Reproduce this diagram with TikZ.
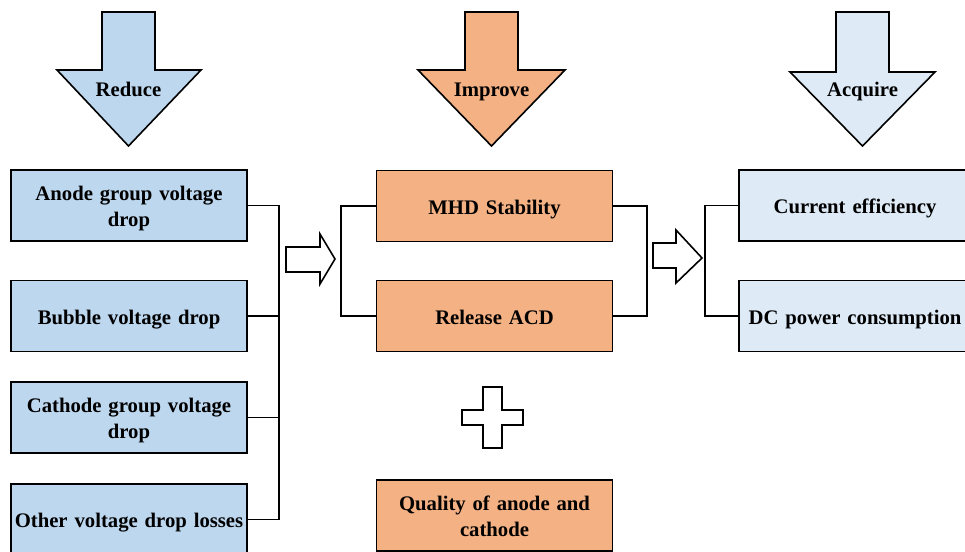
\documentclass[tikz,border=0pt]{standalone}
\usepackage{fontspec}
\setmainfont{Liberation Serif}[BoldFont={Liberation Serif Bold},UprightFont={Liberation Serif}]
\definecolor{boxblue}{RGB}{189,215,238}
\definecolor{boxorange}{RGB}{244,177,131}
\definecolor{boxlight}{RGB}{222,235,247}
\newcommand\boxstrut{\rule[-4.75pt]{0pt}{25.5pt}}
\begin{document}
\begin{tikzpicture}[x=1pt,y=-1pt,
  every node/.style={font=\fontsize{20.7}{25.5}\selectfont\rmfamily\bfseries},
  box/.style={draw=black,line width=1.8pt,minimum height=71pt,inner sep=2pt,align=center},
  lbox/.style={box,fill=boxblue,minimum width=234pt,text width=232pt},
  mbox/.style={box,fill=boxorange,minimum width=235pt,text width=232pt},
  rbox/.style={box,fill=boxlight,minimum width=230pt,text width=228pt},
  wire/.style={line width=1.6pt},
  bigarrow/.style={draw=black,line width=1.6pt,line join=miter},
  hollow/.style={draw=black,line width=1.6pt,fill=white,line join=miter}]
\clip (0,0) rectangle (965,551);
\fill[white] (0,0) rectangle (965,551);

% big top arrows
\draw[bigarrow,fill=boxblue] (102,12) -- (155,12) -- (155,70) -- (201,70) -- (128.5,146) -- (57,70) -- (102,70) -- cycle;
\node (reduce) at (128.5,91) {Reduce\strut};
\draw[bigarrow,fill=boxorange] (465,12) -- (518,12) -- (518,70) -- (565,70) -- (491.5,146) -- (418,70) -- (465,70) -- cycle;
\node (improve) at (491.5,91) {Improve\strut};
\draw[bigarrow,fill=boxlight] (836,12) -- (889,12) -- (889,72) -- (935,72) -- (862.5,146) -- (790,72) -- (836,72) -- cycle;
\node (acquire) at (862.5,91) {Acquire\strut};

% left boxes
\node[lbox] (anode) at (129,205.5) {Anode group voltage\boxstrut\\drop\boxstrut};
\node[lbox] (bubble) at (129,316) {Bubble voltage drop\boxstrut};
\node[lbox] (cathode) at (129,417.5) {Cathode group voltage\boxstrut\\drop\boxstrut};
\node[lbox] (other) at (129,519.5) {Other voltage drop losses\boxstrut};

% middle boxes
\node[mbox] (mhd) at (494.5,206) {MHD Stability\boxstrut};
\node[mbox] (acd) at (494.5,316) {Release ACD\boxstrut};
\node[mbox] (quality) at (494.5,515.5) {Quality of anode and\boxstrut\\cathode\boxstrut};

% right boxes
\node[rbox] (cur) at (855,205.5) {Current efficiency\boxstrut};
\node[rbox] (dc) at (855,316) {DC power consumption\boxstrut};

% connectors
\coordinate (busL) at (279,0);
\coordinate (brL) at (341,0);
\coordinate (brR) at (647,0);
\coordinate (brA) at (705,0);
\draw[wire] (anode.east) -- (anode.east -| busL) -- (other.east -| busL) -- (other.east);
\draw[wire] (bubble.east) -- (bubble.east -| busL);
\draw[wire] (cathode.east) -- (cathode.east -| busL);
\draw[wire] (mhd.west) -- (mhd.west -| brL) -- (acd.west -| brL) -- (acd.west);
\draw[wire] (mhd.east) -- (mhd.east -| brR) -- (acd.east -| brR) -- (acd.east);
\draw[wire] (cur.west) -- (cur.west -| brA) -- (dc.west -| brA) -- (dc.west);

% hollow arrows
\draw[hollow] (286,247) -- (320,247) -- (320,234) -- (335,259) -- (320,284) -- (320,272) -- (286,272) -- cycle;
\draw[hollow] (653,243) -- (676,243) -- (676,230) -- (702,258) -- (676,283) -- (676,268) -- (653,268) -- cycle;

% plus
\draw[hollow] (483,387) -- (502,387) -- (502,410) -- (523,410) -- (523,425) -- (502,425) -- (502,448) -- (483,448) -- (483,425) -- (462,425) -- (462,410) -- (483,410) -- cycle;
\end{tikzpicture}
\end{document}
